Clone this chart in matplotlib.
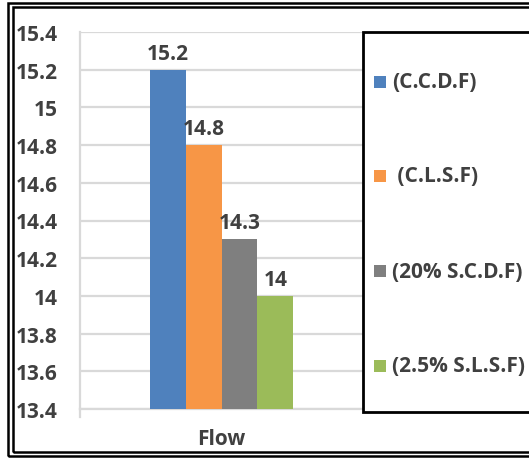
import matplotlib
matplotlib.use("Agg")
import matplotlib.pyplot as plt
from matplotlib.patches import Rectangle
from matplotlib.lines import Line2D

categories = ["Flow"]
series_names = ["(C.C.D.F)", " (C.L.S.F)", "(20% S.C.D.F)", "(2.5% S.L.S.F)"]
series_values = [15.2, 14.8, 14.3, 14.0]
value_labels = ["15.2", "14.8", "14.3", "14"]
colors = ["#4F81BD", "#F79646", "#7F7F7F", "#9BBB59"]
yticks = [13.4, 13.6, 13.8, 14.0, 14.2, 14.4, 14.6, 14.8, 15.0, 15.2, 15.4]
ytick_labels = ["13.4", "13.6", "13.8", "14", "14.2", "14.4", "14.6", "14.8", "15", "15.2", "15.4"]

plt.rcParams['font.family'] = ['Open Sans', 'DejaVu Sans']
plt.rcParams['font.weight'] = 'bold'
txt = "#404040"
FS = 15

W, H = 529, 460
fig = plt.figure(figsize=(W / 100, H / 100), dpi=100)
fig.patch.set_facecolor("white")

def fx(px):
    return px / W

def fy(py):
    return 1 - py / H

ax = fig.add_axes([fx(80), fy(410), fx(363) - fx(80), fy(33) - fy(410)])
ax.set_ylim(13.4, 15.4)
ax.set_xlim(-0.5, 0.5)

bw = 0.127
n = len(series_values)
for i, (v, c, lab) in enumerate(zip(series_values, colors, value_labels)):
    x = (i - (n - 1) / 2) * bw
    ax.bar(x, v - 13.4, bottom=13.4, width=bw, color=c, zorder=3)
    ax.annotate(lab, (x, v), xytext=(0, 8), textcoords="offset points",
                ha="center", va="baseline", fontsize=FS,
                fontweight="bold", color=txt, zorder=4)

ax.set_yticks(yticks)
ax.set_yticklabels(ytick_labels)
ax.set_xticks([0])
ax.set_xticklabels(categories)
ax.tick_params(axis="y", length=0, labelsize=FS, labelcolor=txt, pad=16)
ax.tick_params(axis="x", length=0, labelsize=FS, labelcolor=txt, pad=14)
for t in ax.get_yticklabels() + ax.get_xticklabels():
    t.set_fontweight("bold")
ax.grid(axis="y", color="#D9D9D9", linewidth=1.6, zorder=0)
for s in ["top", "right"]:
    ax.spines[s].set_visible(False)
ax.spines["left"].set_color("#D9D9D9")
ax.spines["left"].set_linewidth(1.6)
ax.spines["left"].set_bounds(13.4, 15.4)
ax.spines["bottom"].set_color("#D9D9D9")
ax.spines["bottom"].set_linewidth(1.6)
ax.add_line(Line2D([fx(80), fx(80)], [fy(410), fy(418)], transform=fig.transFigure,
                   color="#D9D9D9", linewidth=1.6, clip_on=False))

# legend box
fig.add_artist(Rectangle((fx(363), fy(413)), fx(200), fy(33) - fy(413),
                         transform=fig.transFigure, facecolor="white",
                         edgecolor="black", linewidth=2, clip_on=False, zorder=5))
leg_y = [83, 177, 272, 367]
for name, c, yy in zip(series_names, colors, leg_y):
    fig.add_artist(Rectangle((fx(374), fy(yy + 6)), fx(12), fy(yy - 6) - fy(yy + 6),
                             transform=fig.transFigure, facecolor=c,
                             edgecolor="none", zorder=6))
    fig.text(fx(392), fy(yy), name, ha="left", va="center", fontsize=FS,
             fontweight="bold", color=txt, zorder=7)

# double frame
fig.add_artist(Rectangle((fx(7.5), fy(457)), fx(600), fy(3.5) - fy(457),
                         transform=fig.transFigure, facecolor="none",
                         edgecolor="black", linewidth=1.8, clip_on=False, zorder=8))
fig.add_artist(Rectangle((fx(12.5), fy(453)), fx(600), fy(8) - fy(453),
                         transform=fig.transFigure, facecolor="none",
                         edgecolor="black", linewidth=1.8, clip_on=False, zorder=8))

fig.savefig("out.png", dpi=100, facecolor="white")
